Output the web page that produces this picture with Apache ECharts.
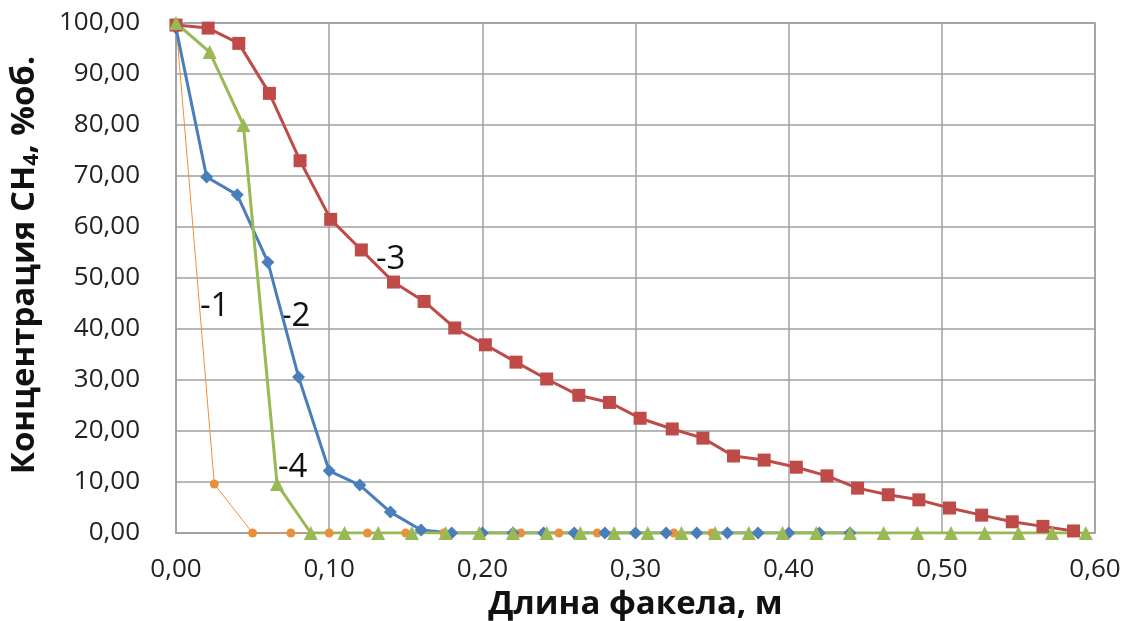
<!DOCTYPE html>
<html><head><meta charset="utf-8">
<script src="https://cdn.jsdelivr.net/npm/echarts@6/dist/echarts.min.js"></script>
<style>html,body{margin:0;padding:0;background:#fff}#c{width:1133px;height:621px}</style>
</head><body><div id="c"></div>
<script>
// Series 1 (orange circles)
const x1 = [0, 0.025, 0.05, 0.075, 0.10, 0.125, 0.15, 0.175, 0.20, 0.225, 0.25, 0.275, 0.30, 0.325, 0.35];
const y1 = [100, 9.6, 0, 0, 0, 0, 0, 0, 0, 0, 0, 0, 0, 0, 0];
// Series 2 (blue diamonds)
const x2 = [0, 0.02, 0.04, 0.06, 0.08, 0.10, 0.12, 0.14, 0.16, 0.18, 0.20, 0.22, 0.24, 0.26, 0.28, 0.30, 0.32, 0.34, 0.36, 0.38, 0.40, 0.42, 0.44];
const y2 = [99, 69.8, 66.3, 53.1, 30.6, 12.2, 9.4, 4.1, 0.6, 0, 0, 0, 0, 0, 0, 0, 0, 0, 0, 0, 0, 0, 0];
// Series 3 (red squares)
const x3 = [0, 0.021, 0.041, 0.061, 0.081, 0.101, 0.121, 0.142, 0.162, 0.182, 0.202, 0.222, 0.242, 0.263, 0.283, 0.303, 0.324, 0.344, 0.364, 0.384, 0.405, 0.425, 0.445, 0.465, 0.485, 0.505, 0.526, 0.546, 0.566, 0.586];
const y3 = [99.6, 99, 96, 86.2, 73, 61.5, 55.5, 49.2, 45.4, 40.2, 36.9, 33.5, 30.2, 27, 25.6, 22.5, 20.4, 18.6, 15.1, 14.3, 12.9, 11.2, 8.8, 7.5, 6.5, 4.9, 3.5, 2.2, 1.3, 0.4];
// Series 4 (green triangles)
const x4 = [0, 0.022, 0.044, 0.066, 0.088, 0.110, 0.132, 0.154, 0.176, 0.198, 0.220, 0.242, 0.264, 0.286, 0.308, 0.330, 0.352, 0.374, 0.396, 0.418, 0.440, 0.462, 0.484, 0.506, 0.528, 0.550, 0.572, 0.594];
const y4 = [100, 94.3, 80, 9.6, 0, 0, 0, 0, 0, 0, 0, 0, 0, 0, 0, 0, 0, 0, 0, 0, 0, 0, 0, 0, 0, 0, 0, 0];

const curveLabels = ['-1', '-2', '-3', '-4'];
const xTitle = 'Длина факела, м';

const zip = (xs, ys) => xs.map((x, i) => [x, ys[i]]);
const fmt = v => v.toFixed(2).replace('.', ',');
const FONT = '"Open Sans", "DejaVu Sans", sans-serif';

const chart = echarts.init(document.getElementById('c'));
chart.setOption({
  animation: false,
  backgroundColor: '#fff',
  grid: { left: 176, right: 38, top: 23, bottom: 88, containLabel: false, outerBoundsMode: 'none',
          show: true, borderColor: '#a0a0a0', borderWidth: 1.5 },
  xAxis: {
    type: 'value', min: 0, max: 0.6, interval: 0.1,
    axisLine: { show: true, lineStyle: { color: '#a0a0a0', width: 1.5 } },
    axisTick: { show: false },
    splitLine: { show: true, lineStyle: { color: '#a0a0a0', width: 1.5 } },
    axisLabel: { formatter: fmt, fontFamily: FONT, fontSize: 26, color: '#222', margin: 24 },
    name: xTitle, nameLocation: 'middle', nameGap: 52,
    nameTextStyle: { fontFamily: FONT, fontSize: 33, fontWeight: 'bold', color: '#111' }
  },
  yAxis: {
    type: 'value', min: 0, max: 100, interval: 10,
    axisLine: { show: true, lineStyle: { color: '#a0a0a0', width: 1.5 } },
    axisTick: { show: false },
    splitLine: { show: true, lineStyle: { color: '#a0a0a0', width: 1.5 } },
    axisLabel: { formatter: fmt, fontFamily: FONT, fontSize: 26, color: '#222', margin: 36 },
    name: '{t|Концентрация CH}{s|4}{t|, %об.}', nameLocation: 'middle', nameGap: 133, nameRotate: 90,
    nameTextStyle: {
      padding: [0, 0, 0, 26],
      rich: {
        t: { fontFamily: FONT, fontSize: 33, fontWeight: 'bold', color: '#111' },
        s: { fontFamily: FONT, fontSize: 21, fontWeight: 'bold', color: '#111', padding: [16, 0, 0, 0] }
      }
    }
  },
  series: [
    { type: 'line', data: zip(x1, y1), symbol: 'circle', symbolSize: 9,
      lineStyle: { color: '#f0903e', width: 1 }, itemStyle: { color: '#e8913c' } },
    { type: 'line', data: zip(x2, y2), symbol: 'diamond', symbolSize: 13,
      lineStyle: { color: '#4a7ebb', width: 3 }, itemStyle: { color: '#4a7ebb' } },
    { type: 'line', data: zip(x3, y3), symbol: 'rect', symbolSize: 13,
      lineStyle: { color: '#be4b48', width: 3 }, itemStyle: { color: '#be4b48' } },
    { type: 'line', data: zip(x4, y4), symbol: 'triangle', symbolSize: 14,
      lineStyle: { color: '#98b954', width: 3 }, itemStyle: { color: '#98b954' } }
  ],
  graphic: [
    { type: 'text', left: 200, top: 290, style: { text: curveLabels[0], font: '33px ' + FONT, fill: '#111' } },
    { type: 'text', left: 281, top: 300, style: { text: curveLabels[1], font: '33px ' + FONT, fill: '#111' } },
    { type: 'text', left: 376, top: 243, style: { text: curveLabels[2], font: '33px ' + FONT, fill: '#111' } },
    { type: 'text', left: 278, top: 451, style: { text: curveLabels[3], font: '33px ' + FONT, fill: '#111' } }
  ]
});
</script>
</body></html>
